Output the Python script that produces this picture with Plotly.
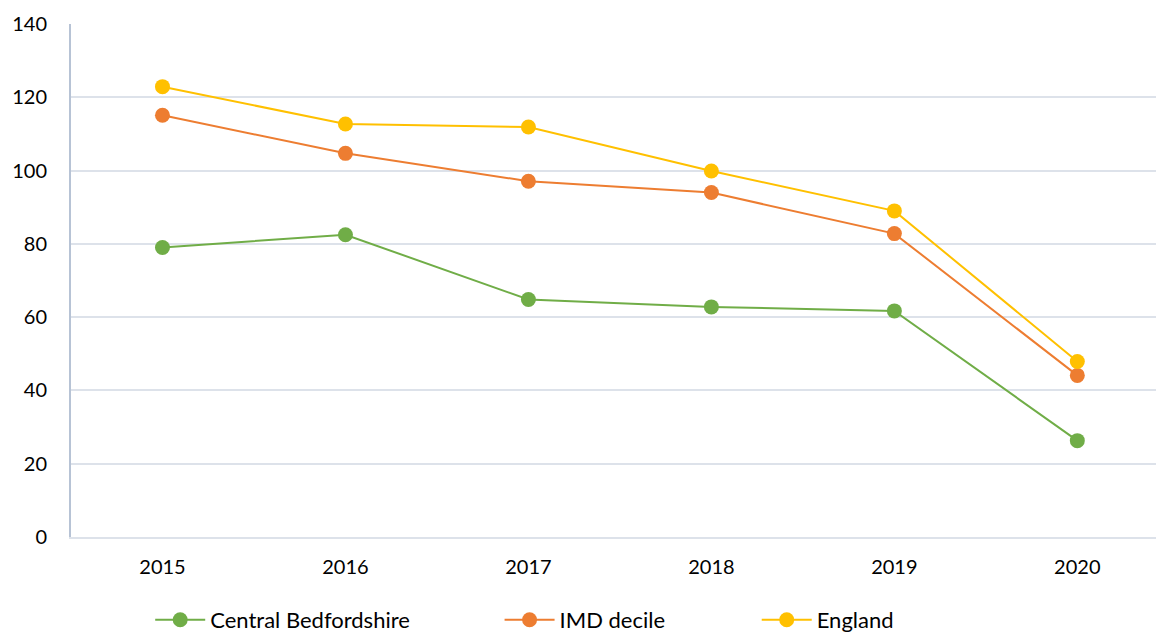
import plotly.graph_objects as go

years = ["2015", "2016", "2017", "2018", "2019", "2020"]
central_beds = [79.0, 82.5, 64.8, 62.8, 61.7, 26.3]
imd_decile = [115.1, 104.7, 97.1, 94.0, 82.8, 44.1]
england = [122.9, 112.7, 111.9, 99.9, 89.0, 47.9]
y_ticks = [0, 20, 40, 60, 80, 100, 120, 140]

series = [
    ("Central Bedfordshire", central_beds, "#70AD47", "legend", 0.073),
    ("IMD decile", imd_decile, "#ED7D31", "legend2", 0.395),
    ("England", england, "#FFC000", "legend3", 0.632),
]

FONT = "Lato, Open Sans, sans-serif"

fig = go.Figure()
layout_legends = {}
for name, vals, color, leg, lx in series:
    fig.add_trace(go.Scatter(
        x=list(range(len(years))), y=vals, name=name, mode="lines+markers",
        line=dict(color=color, width=2),
        marker=dict(color=color, size=15),
        legend=leg,
    ))
    layout_legends[leg] = dict(
        x=lx, xanchor="left", y=1 - 620 / 633, yref="container", yanchor="middle",
        orientation="h", itemwidth=50, bgcolor="rgba(0,0,0,0)",
        font=dict(family=FONT, size=22, color="#000000"),
    )

fig.update_layout(
    width=1156, height=633,
    margin=dict(l=71, r=0, t=24, b=96, autoexpand=False),
    paper_bgcolor="white", plot_bgcolor="white",
    font=dict(family=FONT, size=20, color="#000000"),
    showlegend=True,
    xaxis=dict(
        range=[-0.5, 5.43], tickmode="array",
        tickvals=list(range(len(years))), ticktext=years,
        showgrid=False, zeroline=False,
        showline=True, linecolor="#DDE2EA", linewidth=1.5,
        ticks="", ticklabelstandoff=11,
    ),
    yaxis=dict(
        range=[0, 140], tickvals=y_ticks,
        showgrid=True, gridcolor="#DDE2EA", gridwidth=1.5,
        zeroline=False, showline=True, linecolor="#B7C3D5", linewidth=2,
        ticks="", ticklabelstandoff=18,
    ),
    **layout_legends,
)

fig.write_html("out.html")
